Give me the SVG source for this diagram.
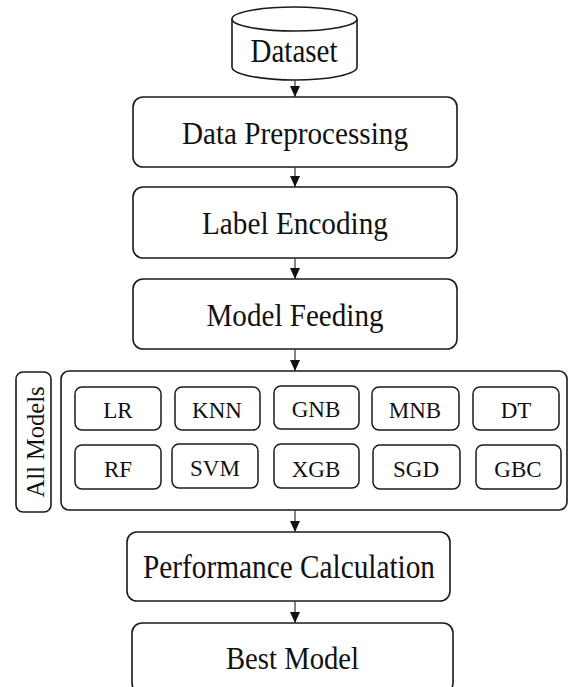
<svg xmlns="http://www.w3.org/2000/svg" width="568" height="687" viewBox="0 0 568 687">
<style>
.box{fill:#fff;stroke:#1a1a1a;stroke-width:1.6}
.sm{fill:#fff;stroke:#1a1a1a;stroke-width:1.5}
.t{font-family:"Liberation Serif","Times New Roman",serif;fill:#111;text-anchor:middle}
.big{font-size:31px}
.mid{font-size:23px}
.conn{stroke:#333;stroke-width:1.2;fill:none;marker-end:url(#ah)}
</style>
<defs>
<marker id="ah" markerWidth="11" markerHeight="10" refX="11" refY="5" orient="auto" markerUnits="userSpaceOnUse">
<path d="M0,0 L11,5 L0,10 Z" fill="#111"/>
</marker>
</defs>
<rect width="568" height="687" fill="#fff"/>
<g id="dataset">
<path class="box" d="M232,19 V67 A62.5,13 0 0 0 357,67 V19"/>
<ellipse class="box" cx="294.5" cy="19" rx="62.5" ry="12"/>
<text class="t" x="294" y="62" font-size="33" textLength="87" lengthAdjust="spacingAndGlyphs">Dataset</text>
</g>
<g id="preprocessing">
<rect class="box" x="133" y="97" width="324" height="70" rx="10"/>
<text class="t big" x="295" y="144" textLength="226" lengthAdjust="spacingAndGlyphs">Data Preprocessing</text>
</g>
<g id="encoding">
<rect class="box" x="133" y="187" width="324" height="71" rx="10"/>
<text class="t big" x="295" y="234" textLength="186" lengthAdjust="spacingAndGlyphs">Label Encoding</text>
</g>
<g id="feeding">
<rect class="box" x="133" y="279" width="324" height="70" rx="10"/>
<text class="t big" x="295" y="326" textLength="177" lengthAdjust="spacingAndGlyphs">Model Feeding</text>
</g>
<g id="allmodels-label">
<rect class="box" x="16" y="372" width="35" height="140" rx="7"/>
<text class="t" font-size="25" transform="translate(44 442) rotate(-90)" x="0" y="0" textLength="111" lengthAdjust="spacingAndGlyphs">All Models</text>
</g>
<g id="allmodels">
<rect class="box" x="61" y="371" width="506" height="139" rx="8"/>
</g>
<g id="lr"><rect class="sm" x="75" y="387" width="86" height="43" rx="7"/><text class="t mid" x="118" y="418">LR</text></g>
<g id="knn"><rect class="sm" x="175" y="387" width="85" height="43" rx="7"/><text class="t mid" x="217" y="418">KNN</text></g>
<g id="gnb"><rect class="sm" x="274" y="386" width="85" height="43" rx="7"/><text class="t mid" x="316" y="417">GNB</text></g>
<g id="mnb"><rect class="sm" x="372" y="387" width="87" height="43" rx="7"/><text class="t mid" x="415" y="418">MNB</text></g>
<g id="dt"><rect class="sm" x="473" y="387" width="86" height="43" rx="7"/><text class="t mid" x="516" y="418">DT</text></g>
<g id="rf"><rect class="sm" x="75" y="445" width="86" height="44" rx="7"/><text class="t mid" x="118" y="477">RF</text></g>
<g id="svm"><rect class="sm" x="172" y="444" width="86" height="44" rx="7"/><text class="t mid" x="215" y="476">SVM</text></g>
<g id="xgb"><rect class="sm" x="274" y="444" width="85" height="44" rx="7"/><text class="t mid" x="316" y="477">XGB</text></g>
<g id="sgd"><rect class="sm" x="373" y="445" width="87" height="44" rx="7"/><text class="t mid" x="416" y="477">SGD</text></g>
<g id="gbc"><rect class="sm" x="476" y="445" width="85" height="44" rx="7"/><text class="t mid" x="518" y="477">GBC</text></g>
<g id="performance">
<rect class="box" x="127" y="532" width="323" height="69" rx="10"/>
<text class="t" font-size="33" x="289" y="578" textLength="292" lengthAdjust="spacingAndGlyphs">Performance Calculation</text>
</g>
<g id="best">
<rect class="box" x="132" y="623" width="321" height="70" rx="10"/>
<text class="t" font-size="32" x="292.5" y="669" textLength="133" lengthAdjust="spacingAndGlyphs">Best Model</text>
</g>
<g id="connectors">
<line class="conn" x1="295" y1="80" x2="295" y2="97"/>
<line class="conn" x1="295" y1="167" x2="295" y2="187"/>
<line class="conn" x1="295" y1="258" x2="295" y2="279"/>
<line class="conn" x1="295" y1="349" x2="295" y2="371"/>
<line class="conn" x1="295" y1="510" x2="295" y2="532"/>
<line class="conn" x1="295" y1="601" x2="295" y2="623"/>
</g>
</svg>
